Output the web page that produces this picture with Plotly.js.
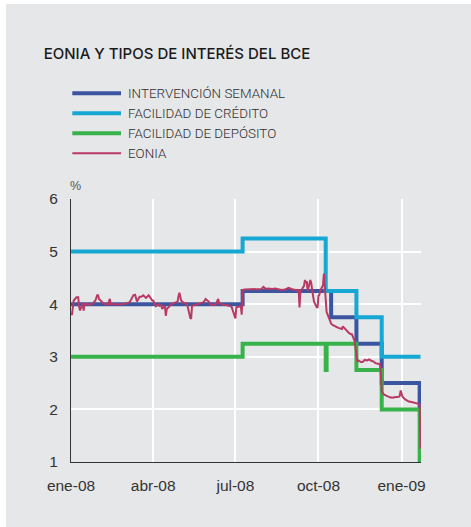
<!DOCTYPE html>
<html>
<head>
<meta charset="utf-8">
<script src="https://cdn.plot.ly/plotly-3.0.1.min.js"></script>
<style>
  html, body { margin: 0; padding: 0; background: #ffffff; width: 471px; height: 527px; overflow: hidden; }
  #chart { position: absolute; left: 6px; top: 4px; width: 465px; height: 523px; }
</style>
</head>
<body>
<div id="chart"></div>
<script>
// ---------------- DATA ----------------
const seriesNames = ['INTERVENCIÓN SEMANAL', 'FACILIDAD DE CRÉDITO', 'FACILIDAD DE DEPÓSITO', 'EONIA'];

const tickDates  = ['2008-01-01', '2008-04-01', '2008-07-01', '2008-10-01', '2009-01-01'];
const tickLabels = ['ene-08', 'abr-08', 'jul-08', 'oct-08', 'ene-09'];
const yTicks = [1, 2, 3, 4, 5, 6];

// Intervención semanal (step series)
const intervDates  = ['2008-01-01', '2008-07-09', '2008-10-15', '2008-11-12', '2008-12-10', '2009-01-21', '2009-01-22'];
const intervValues = [4.00, 4.25, 3.75, 3.25, 2.50, 2.00, 2.00];

// Facilidad de crédito
const creditDates  = ['2008-01-01', '2008-07-09', '2008-10-09', '2008-11-12', '2008-12-10', '2009-01-22'];
const creditValues = [5.00, 5.25, 4.25, 3.75, 3.00, 3.00];

// Facilidad de depósito
const depositDates  = ['2008-01-01', '2008-07-09', '2008-10-09', '2008-10-10', '2008-11-12', '2008-12-10', '2009-01-21', '2009-01-22'];
const depositValues = [3.00, 3.25, 2.75, 3.25, 2.75, 2.00, 1.00, 1.00];

// EONIA
const eoniaDates = [
 '2008-01-02','2008-01-03','2008-01-04','2008-01-07','2008-01-09','2008-01-10','2008-01-11','2008-01-14','2008-01-15','2008-01-16',
 '2008-01-18','2008-01-22','2008-01-25','2008-01-28','2008-01-30','2008-01-31','2008-02-01','2008-02-04','2008-02-07','2008-02-11',
 '2008-02-13','2008-02-14','2008-02-19','2008-02-22','2008-02-27','2008-03-03','2008-03-06','2008-03-10','2008-03-12','2008-03-14',
 '2008-03-17','2008-03-19','2008-03-21','2008-03-24','2008-03-27','2008-03-31','2008-04-01','2008-04-04','2008-04-07','2008-04-08',
 '2008-04-10','2008-04-11','2008-04-14','2008-04-15','2008-04-16','2008-04-18','2008-04-21','2008-04-24','2008-04-28','2008-04-29',
 '2008-04-30','2008-05-02','2008-05-05','2008-05-08','2008-05-09','2008-05-12','2008-05-13','2008-05-14','2008-05-16','2008-05-22',
 '2008-05-27','2008-05-28','2008-05-29','2008-06-02','2008-06-03','2008-06-09','2008-06-10','2008-06-12','2008-06-13','2008-06-17',
 '2008-06-20','2008-06-24','2008-06-26','2008-06-27','2008-06-30','2008-07-01','2008-07-02','2008-07-07','2008-07-08','2008-07-09',
 '2008-07-11','2008-07-15','2008-07-21','2008-07-25','2008-07-30','2008-08-01','2008-08-04','2008-08-06','2008-08-11','2008-08-14',
 '2008-08-18','2008-08-21','2008-08-25','2008-08-29','2008-09-01','2008-09-03','2008-09-08','2008-09-09','2008-09-10','2008-09-11',
 '2008-09-15','2008-09-16','2008-09-17','2008-09-18','2008-09-19','2008-09-22','2008-09-23','2008-09-24','2008-09-26','2008-09-29',
 '2008-09-30','2008-10-01','2008-10-02','2008-10-03','2008-10-06','2008-10-07','2008-10-08','2008-10-09','2008-10-10','2008-10-13',
 '2008-10-15','2008-10-17','2008-10-20','2008-10-23','2008-10-27','2008-10-28','2008-10-29','2008-10-31','2008-11-03','2008-11-04',
 '2008-11-06','2008-11-07','2008-11-10','2008-11-11','2008-11-12','2008-11-13','2008-11-14','2008-11-17','2008-11-19','2008-11-21',
 '2008-11-24','2008-11-26','2008-11-28','2008-12-01','2008-12-03','2008-12-05','2008-12-08','2008-12-09','2008-12-10','2008-12-11',
 '2008-12-12','2008-12-15','2008-12-17','2008-12-19','2008-12-22','2008-12-24','2008-12-29','2008-12-30','2008-12-31','2009-01-02',
 '2009-01-05','2009-01-07','2009-01-09','2009-01-12','2009-01-14','2009-01-16','2009-01-19','2009-01-21','2009-01-22'
];
const eoniaValues = [
 3.79,3.95,4.07,4.13,4.13,3.95,3.88,4.02,3.88,4.01,
 4.00,3.99,4.01,4.07,4.17,4.17,4.10,4.04,4.00,4.00,
 4.10,4.00,4.00,4.01,4.00,4.02,4.04,4.17,4.18,4.05,
 4.14,4.14,4.17,4.12,4.17,4.07,4.07,3.96,4.00,3.97,
 3.98,3.91,3.97,3.78,3.91,3.94,4.00,4.02,4.05,4.15,
 4.22,4.07,4.02,4.02,3.97,3.74,3.72,3.97,3.98,4.00,
 4.04,4.07,4.10,4.04,3.99,3.99,4.02,4.10,4.02,3.99,
 3.99,3.97,3.96,3.94,3.76,3.73,3.94,3.96,3.80,4.27,
 4.28,4.28,4.28,4.29,4.29,4.33,4.29,4.30,4.29,4.30,
 4.28,4.27,4.28,4.31,4.29,4.28,4.26,4.28,3.94,4.24,
 4.35,4.46,4.40,4.44,4.25,4.46,4.40,4.27,4.05,3.94,
 3.94,4.16,4.18,4.26,4.36,4.58,4.29,4.04,3.85,3.72,
 3.63,3.60,3.57,3.55,3.53,3.58,3.56,3.52,3.47,3.45,
 3.43,3.43,3.30,3.15,3.00,2.92,2.93,2.90,2.90,2.94,
 2.93,2.95,2.93,2.91,2.88,2.87,2.86,2.70,2.36,2.31,
 2.29,2.26,2.24,2.23,2.22,2.23,2.24,2.26,2.36,2.24,
 2.19,2.17,2.15,2.14,2.13,2.12,2.11,2.08,1.25
];

// ---------------- STYLE ----------------
const colors = ['#3b55a0', '#16a8d2', '#38b24a', '#b83a64'];
const widths = [4, 4, 4, 2];
const bg = '#e6e7e9';
const textColor = '#333333';

const L = 65, R = 50, T = 195, B = 65, DIVW = 465, DIVH = 523, OFFX = 6, OFFY = 4;
const plotW = DIVW - L - R, plotH = DIVH - T - B;
const pxX = p => (p - OFFX - L) / plotW;            // page px -> paper x
const pxY = p => (DIVH - B + OFFY - p) / plotH;     // page px -> paper y

const traces = [
  {x: intervDates,  y: intervValues,  shape: 'hv'},
  {x: creditDates,  y: creditValues,  shape: 'hv'},
  {x: depositDates, y: depositValues, shape: 'hv'},
  {x: eoniaDates,   y: eoniaValues,   shape: 'linear'}
].map((t, i) => ({
  type: 'scatter', mode: 'lines', name: seriesNames[i],
  x: t.x, y: t.y,
  line: {color: colors[i], width: widths[i], shape: t.shape},
  hoverinfo: 'skip'
}));

// manual legend
const legendRows = [93.3, 113.3, 133.3, 153.3];
const shapes = legendRows.map((py, i) => ({
  type: 'line', xref: 'paper', yref: 'paper',
  x0: pxX(72.3), x1: pxX(121), y0: pxY(py), y1: pxY(py),
  line: {color: colors[i], width: widths[i]}
}));
const annotations = legendRows.map((py, i) => ({
  xref: 'paper', yref: 'paper', x: pxX(126), y: pxY(py),
  xanchor: 'left', yanchor: 'middle', showarrow: false,
  text: seriesNames[i],
  font: {family: 'Roboto, Liberation Sans, Arial, sans-serif', size: 13.4, weight: 300, color: '#2e2e2e'}
}));
annotations.push({
  xref: 'paper', yref: 'paper', x: pxX(68), y: pxY(186),
  xanchor: 'left', yanchor: 'middle', showarrow: false,
  text: '%', font: {family: 'Liberation Sans, Arial, sans-serif', size: 12.5, color: '#555555'}
});

const layout = {
  width: DIVW, height: DIVH,
  margin: {l: L, r: R, t: T, b: B, pad: 0},
  paper_bgcolor: bg, plot_bgcolor: bg,
  showlegend: false,
  title: {
    text: 'EONIA Y TIPOS DE INTERÉS DEL BCE',
    xref: 'container', yref: 'container',
    x: (43.7 - OFFX) / DIVW, xanchor: 'left',
    y: 1 - (53.5 - OFFY) / DIVH, yanchor: 'middle',
    font: {family: 'Inter, Roboto, Liberation Sans, Arial, sans-serif', size: 15, weight: 500, color: '#1a1a1a'}
  },
  xaxis: {
    type: 'date',
    range: ['2008-01-01', '2009-01-22 12:00'],
    tickmode: 'array', tickvals: tickDates, ticktext: tickLabels,
    showgrid: true, gridcolor: '#ffffff', gridwidth: 2,
    showline: true, linecolor: '#333333', linewidth: 1,
    zeroline: false, ticks: '', ticklabelstandoff: 9,
    tickfont: {family: 'Liberation Sans, Arial, sans-serif', size: 15.5, color: textColor},
    fixedrange: true
  },
  yaxis: {
    range: [1, 6], tickmode: 'array', tickvals: yTicks,
    showgrid: true, gridcolor: '#ffffff', gridwidth: 2,
    showline: true, linecolor: '#333333', linewidth: 1,
    zeroline: false, ticks: '', ticklabelstandoff: 9,
    tickfont: {family: 'Liberation Sans, Arial, sans-serif', size: 15.5, color: textColor},
    fixedrange: true
  },
  shapes: shapes,
  annotations: annotations
};

Plotly.newPlot('chart', traces, layout, {displayModeBar: false, staticPlot: true});
</script>
</body>
</html>
